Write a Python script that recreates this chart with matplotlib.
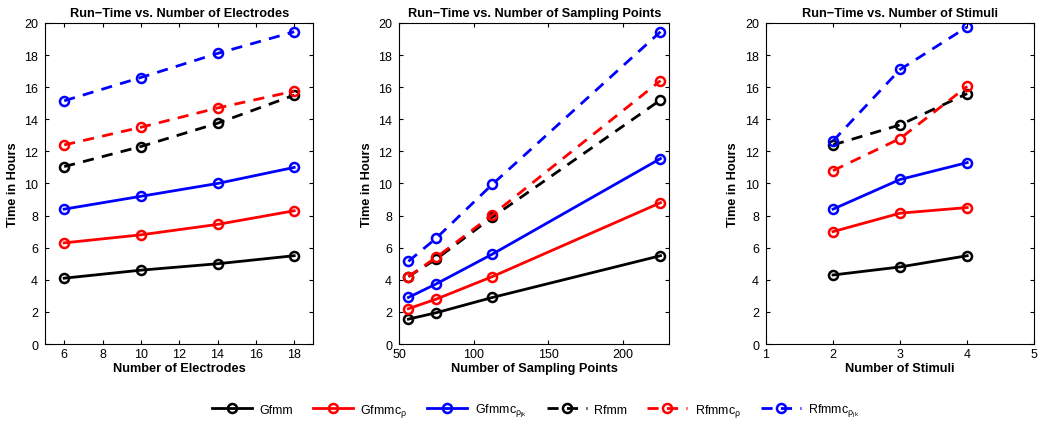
import matplotlib
matplotlib.use("Agg")
import matplotlib.pyplot as plt

plt.rcParams['font.family'] = ['Liberation Sans', 'DejaVu Sans']
plt.rcParams['mathtext.fontset'] = 'custom'
plt.rcParams['mathtext.rm'] = 'Liberation Sans'
plt.rcParams['mathtext.it'] = 'Liberation Sans'

labels = ["Gfmm", r"Gfmmc$_{\rho}$", r"Gfmmc$_{\rho_{jk}}$",
          "Rfmm", r"Rfmmc$_{\rho}$", r"Rfmmc$_{\rho_{jk}}$"]
colors = ["black", "red", "blue", "black", "red", "blue"]
styles = ["-", "-", "-", "--", "--", "--"]

# electrodes
x_elec = [6, 10, 14, 18]
y_elec = [
    [4.1, 4.6, 5.0, 5.5],
    [6.3, 6.8, 7.45, 8.3],
    [8.4, 9.2, 10.0, 11.0],
    [11.05, 12.3, 13.75, 15.5],
    [12.4, 13.5, 14.7, 15.75],
    [15.15, 16.6, 18.1, 19.45],
]

# sampling points
x_samp = [56.25, 75, 112.5, 225]
y_samp = [
    [1.55, 1.95, 2.9, 5.5],
    [2.2, 2.8, 4.2, 8.8],
    [2.9, 3.75, 5.6, 11.55],
    [4.2, 5.3, 7.9, 15.2],
    [4.2, 5.4, 8.05, 16.4],
    [5.15, 6.6, 9.95, 19.45],
]

# stimuli
x_stim = [2, 3, 4]
y_stim = [
    [4.3, 4.8, 5.5],
    [7.0, 8.15, 8.5],
    [8.4, 10.25, 11.3],
    [12.4, 13.65, 15.6],
    [10.8, 12.8, 16.05],
    [12.65, 17.1, 19.75],
]

fig = plt.figure(figsize=(10.4, 4.31), dpi=100)
ax1 = fig.add_axes([0.0433, 0.1995, 0.258, 0.745])
ax2 = fig.add_axes([0.3837, 0.1995, 0.26, 0.745])
ax3 = fig.add_axes([0.7365, 0.1995, 0.258, 0.745])

panels = [
    (ax1, x_elec, y_elec, "Run\u2212Time vs. Number of Electrodes", "Number of Electrodes", (5, 19), [6, 8, 10, 12, 14, 16, 18]),
    (ax2, x_samp, y_samp, "Run\u2212Time vs. Number of Sampling Points", "Number of Sampling Points", (50, 231), [50, 100, 150, 200]),
    (ax3, x_stim, y_stim, "Run\u2212Time vs. Number of Stimuli", "Number of Stimuli", (1, 5), [1, 2, 3, 4, 5]),
]

handles = []
for ax, xs, ys, title, xlabel, xlim, xticks in panels:
    handles = []
    for y, c, ls, lab in zip(ys, colors, styles, labels):
        h, = ax.plot(xs, y, color=c, linestyle=ls, linewidth=2, marker='o',
                     markersize=6.5, markerfacecolor='none', markeredgewidth=1.8,
                     dashes=(4, 3) if ls == "--" else (None, None), label=lab)
        handles.append(h)
    ax.set_xlim(*xlim)
    ax.set_ylim(0, 20)
    ax.set_xticks(xticks)
    ax.set_yticks(range(0, 21, 2))
    ax.set_title(title, fontsize=9.2, fontweight='bold', pad=5)
    ax.set_xlabel(xlabel, fontsize=9.2, fontweight='bold', labelpad=1)
    ax.set_ylabel("Time in Hours", fontsize=9.2, fontweight='bold', labelpad=4)
    ax.tick_params(direction='in', top=True, right=True, labelsize=9, length=3)
    ax.tick_params(axis='x', pad=3)
    ax.tick_params(axis='y', pad=5)
    for s in ax.spines.values():
        s.set_linewidth(0.8)

fig.legend(handles, labels, loc='center', bbox_to_anchor=(0.515, 0.045), ncol=6,
           frameon=False, fontsize=9, handlelength=3.2, columnspacing=1.6,
           handletextpad=0.6)

fig.savefig("out.png", dpi=100)
